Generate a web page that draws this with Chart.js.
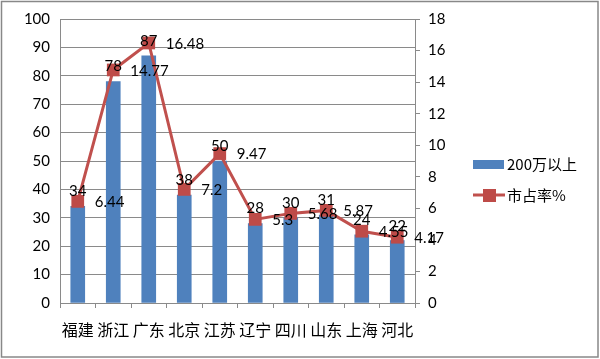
<!DOCTYPE html>
<html>
<head>
<meta charset="utf-8">
<script src="https://cdn.jsdelivr.net/npm/chart.js@4/dist/chart.umd.min.js"></script>
<style>
html,body{margin:0;padding:0;background:#fff;}
#wrap{position:relative;width:600px;height:359px;}
</style>
</head>
<body>
<div id="wrap"><canvas id="c" width="600" height="359"></canvas></div>
<script>
const categories = ['福建','浙江','广东','北京','江苏','辽宁','四川','山东','上海','河北'];
const units = [34, 78, 87, 38, 50, 28, 30, 31, 24, 22];
const share = [6.44, 14.77, 16.48, 7.2, 9.47, 5.3, 5.68, 5.87, 4.55, 4.17];
const seriesNames = ['200万以上', '市占率%'];

const NUM_FONT = '15px Lato, "Noto Sans CJK SC", sans-serif';
const CJK = '"Noto Sans CJK SC", sans-serif';
const BLUE = '#4F81BD', RED = '#C0504D', RED_DARK = '#BE4B48', GRID = '#8a8a8a';

const labelPlugin = {
  id: 'labels',
  afterDatasetsDraw(chart) {
    const ctx = chart.ctx;
    ctx.save();
    ctx.font = NUM_FONT;
    ctx.fillStyle = '#000';
    chart.data.datasets.forEach((ds, di) => {
      const meta = chart.getDatasetMeta(di);
      meta.data.forEach((el, i) => {
        const v = ds.data[i];
        if (meta.type === 'bar') {
          ctx.textAlign = 'center';
          ctx.textBaseline = 'alphabetic';
          ctx.fillText(String(v), el.x, el.y - 10);
        } else {
          ctx.textAlign = 'left';
          ctx.textBaseline = 'middle';
          ctx.fillText(String(v), el.x + 17, el.y + 1);
        }
      });
    });
    ctx.restore();
  },
  afterDraw(chart) {
    const ctx = chart.ctx;
    ctx.save();
    ctx.fillStyle = BLUE;
    ctx.fillRect(473, 160, 31, 9);
    ctx.strokeStyle = RED;
    ctx.lineWidth = 3;
    ctx.beginPath(); ctx.moveTo(473, 195); ctx.lineTo(505, 195); ctx.stroke();
    ctx.fillStyle = RED_DARK;
    ctx.fillRect(483, 189, 13, 13);
    ctx.fillStyle = '#000';
    ctx.font = '15px ' + CJK;
    ctx.textAlign = 'left';
    ctx.textBaseline = 'middle';
    ctx.fillText(seriesNames[0], 507, 164);
    ctx.fillText(seriesNames[1], 507, 195);
    ctx.strokeStyle = '#888';
    ctx.lineWidth = 1.5;
    ctx.strokeRect(1.5, 1.5, 596.5, 355.5);
    ctx.restore();
  }
};

new Chart(document.getElementById('c'), {
  data: {
    labels: categories,
    datasets: [
      {
        type: 'line', label: seriesNames[1], data: share, yAxisID: 'y1', order: 0,
        borderColor: RED, borderWidth: 3, pointStyle: 'rect', pointRadius: 9,
        pointBackgroundColor: RED_DARK, pointBorderColor: RED_DARK, pointBorderWidth: 0,
        tension: 0
      },
      {
        type: 'bar', label: seriesNames[0], data: units, yAxisID: 'y', order: 1,
        backgroundColor: BLUE, barThickness: 14
      }
    ]
  },
  options: {
    responsive: false, animation: false, devicePixelRatio: 1,
    layout: { padding: { left: 0, right: 145, top: 18, bottom: 0 } },
    plugins: { legend: { display: false }, tooltip: { enabled: false } },
    scales: {
      x: {
        grid: { drawOnChartArea: false, offset: true, tickLength: 5, color: GRID },
        border: { color: GRID },
        ticks: { color: '#000', font: { family: CJK, size: 16 }, padding: 12, maxRotation: 0, autoSkip: false },
        afterFit(s) { s.height = 56; }
      },
      y: {
        position: 'left', min: 0, max: 100,
        ticks: { stepSize: 10, color: '#000', font: { family: 'Lato, sans-serif', size: 15 }, padding: 10 },
        grid: { color: GRID, drawTicks: false },
        border: { color: GRID },
        afterFit(s) { s.width = 60; }
      },
      y1: {
        position: 'right', min: 0, max: 18,
        ticks: { stepSize: 2, color: '#000', font: { family: 'Lato, sans-serif', size: 15 }, padding: 8 },
        grid: { drawOnChartArea: false, tickLength: 5, color: GRID },
        border: { color: GRID },
        afterFit(s) { s.width = 40; }
      }
    }
  },
  plugins: [labelPlugin]
});
</script>
</body>
</html>
